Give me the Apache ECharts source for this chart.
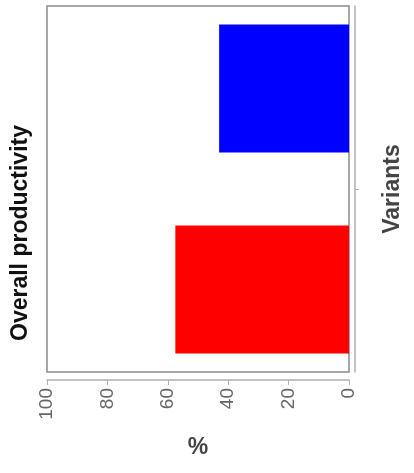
<!DOCTYPE html>
<html>
<head>
<meta charset="utf-8">
<script src="https://cdn.jsdelivr.net/npm/echarts@6/dist/echarts.min.js"></script>
<style>html,body{margin:0;padding:0;background:#fff;}#c{width:414px;height:473px;}</style>
</head>
<body>
<div id="c"></div>
<script>
const categories = [''];
const seriesNames = ['Blue variant', 'Red variant'];
const blueValues = [43];
const redValues = [57.5];
const xTicks = [0, 20, 40, 60, 80, 100];

const chart = echarts.init(document.getElementById('c'), null, {renderer: 'canvas'});
chart.setOption({
  animation: false,
  backgroundColor: '#fff',
  grid: {left: 47, right: 65, top: 6, bottom: 101, show: true, borderColor: '#8a8a8a', borderWidth: 1.5, backgroundColor: '#fff'},
  xAxis: {
    type: 'value', min: xTicks[0], max: xTicks[xTicks.length - 1], interval: 20, inverse: true,
    position: 'bottom', offset: 8,
    axisLine: {show: true, onZero: false, lineStyle: {color: '#b0b0b0', width: 1.5}},
    axisTick: {show: true, length: 5, lineStyle: {color: '#b0b0b0'}},
    splitLine: {show: false},
    axisLabel: {rotate: 90, color: '#666', fontSize: 19, fontFamily: 'Liberation Sans', margin: 8},
    name: '%', nameLocation: 'middle', nameGap: 56,
    nameTextStyle: {fontSize: 23, fontWeight: 'bold', color: '#444', fontFamily: 'Liberation Sans'}
  },
  yAxis: {
    type: 'category', data: categories, position: 'right', offset: 6,
    axisLine: {show: true, onZero: false, lineStyle: {color: '#b0b0b0', width: 1.5}},
    axisTick: {show: true, alignWithLabel: true, length: 4, lineStyle: {color: '#b0b0b0'}},
    axisLabel: {show: false},
    name: 'Variants', nameLocation: 'middle', nameGap: 26, nameRotate: 90,
    nameTextStyle: {fontSize: 23, fontWeight: 'bold', color: '#444', fontFamily: 'Liberation Sans'}
  },
  series: [
    {name: seriesNames[0], type: 'bar', data: blueValues, barWidth: 128, barGap: '57%', itemStyle: {color: '#0000ff'}},
    {name: seriesNames[1], type: 'bar', data: redValues, barWidth: 128, barGap: '57%', itemStyle: {color: '#ff0000'}}
  ],
  graphic: [{
    type: 'text', x: 21, y: 233, rotation: Math.PI / 2,
    style: {text: 'Overall productivity', fontSize: 23, fontWeight: 'bold', fill: '#111', fontFamily: 'Liberation Sans', align: 'center', verticalAlign: 'middle'}
  }]
});
</script>
</body>
</html>
